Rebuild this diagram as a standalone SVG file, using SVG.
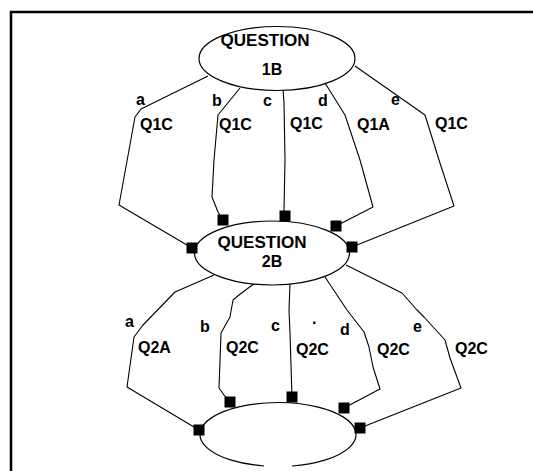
<svg xmlns="http://www.w3.org/2000/svg" width="533" height="471" viewBox="0 0 533 471">
  <style>
    .frame { fill: none; stroke: #000; stroke-width: 2.5; }
    .node { fill: #fff; stroke: #000; stroke-width: 1.2; }
    .edge { fill: none; stroke: #000; stroke-width: 1.1; stroke-linejoin: round; }
    .title { font-family: "Liberation Sans", Arial, sans-serif; font-weight: bold; font-size: 16px; fill: #000; }
    .lbl { font-family: "Liberation Sans", Arial, sans-serif; font-weight: bold; font-size: 16px; fill: #000; }
    .port { fill: #000; }
  </style>
  <defs>
    <rect id="port" class="port" x="-5.5" y="-5.5" width="11" height="11"/>
  </defs>
  <rect width="533" height="471" fill="#fff"/>
  <path class="frame" d="M11,471 V12 H533"/>

  <!-- connectors -->
  <g id="connectors">
    <!-- question 1B to question 2B -->
    <polyline class="edge" points="208,76 141,109 135,117 119,205 192,248"/>
    <polyline class="edge" points="240,88 218,115 214,160 212,197 218,212 223,220"/>
    <polyline class="edge" points="283,89 284,103 285,160 284,210 285,216"/>
    <polyline class="edge" points="325,83 345,115 360,160 373,207 336,226"/>
    <polyline class="edge" points="355,66 425,115 439,160 454,206 352,247"/>
    <!-- question 2B to the last node -->
    <polyline class="edge" points="214,275 175,292 143,325 134,337 127,387 199,430"/>
    <polyline class="edge" points="255,283 239,295 233,300 230,317 221,333 219,388 224,395 230,402"/>
    <polyline class="edge" points="290,283 289,310 290,333 292,397"/>
    <polyline class="edge" points="325,277 347,310 364,332 369,347 373,367 380,389 344,408"/>
    <polyline class="edge" points="346,265 402,293 417,310 424,317 445,340 450,358 461,388 360,428"/>
  </g>

  <!-- edge labels -->
  <g id="labels-1b">
    <text class="lbl" x="136" y="105">a</text>
    <text class="lbl" x="212" y="106">b</text>
    <text class="lbl" x="263" y="106">c</text>
    <text class="lbl" x="318" y="106">d</text>
    <text class="lbl" x="391" y="105">e</text>
    <text class="lbl" x="140" y="130">Q1C</text>
    <text class="lbl" x="219" y="130">Q1C</text>
    <text class="lbl" x="290" y="129">Q1C</text>
    <text class="lbl" x="357" y="130">Q1A</text>
    <text class="lbl" x="435" y="129">Q1C</text>
  </g>
  <g id="labels-2b">
    <text class="lbl" x="125" y="327">a</text>
    <text class="lbl" x="200" y="332">b</text>
    <text class="lbl" x="271" y="331">c</text>
    <text class="lbl" x="312" y="324">.</text>
    <text class="lbl" x="340" y="335">d</text>
    <text class="lbl" x="413" y="332">e</text>
    <text class="lbl" x="138" y="353">Q2A</text>
    <text class="lbl" x="226" y="353">Q2C</text>
    <text class="lbl" x="296" y="355">Q2C</text>
    <text class="lbl" x="377" y="355">Q2C</text>
    <text class="lbl" x="455" y="354">Q2C</text>
  </g>

  <!-- nodes -->
  <g id="question-1b">
    <ellipse class="node" cx="277" cy="58.5" rx="78" ry="32"/>
    <text class="title" x="265" y="46" text-anchor="middle" textLength="89" lengthAdjust="spacingAndGlyphs">QUESTION</text>
    <text class="title" x="272" y="75" text-anchor="middle">1B</text>
  </g>
  <g id="question-2b">
    <ellipse class="node" cx="272" cy="253" rx="77.5" ry="32"/>
    <text class="title" x="262" y="248" text-anchor="middle" textLength="89" lengthAdjust="spacingAndGlyphs">QUESTION</text>
    <text class="title" x="272" y="267" text-anchor="middle">2B</text>
  </g>
  <g id="end-node">
    <path class="node" d="M292,466 A78,32 0 1 0 264,466"/>
  </g>

  <!-- square ports where the connectors meet the lower nodes -->
  <g id="ports">
    <use href="#port" x="192" y="248"/>
    <use href="#port" x="223" y="220"/>
    <use href="#port" x="285" y="216"/>
    <use href="#port" x="336" y="226"/>
    <use href="#port" x="352" y="247"/>
    <use href="#port" x="199" y="430"/>
    <use href="#port" x="230" y="402"/>
    <use href="#port" x="292" y="397"/>
    <use href="#port" x="344" y="408"/>
    <use href="#port" x="360" y="428"/>
  </g>
</svg>
